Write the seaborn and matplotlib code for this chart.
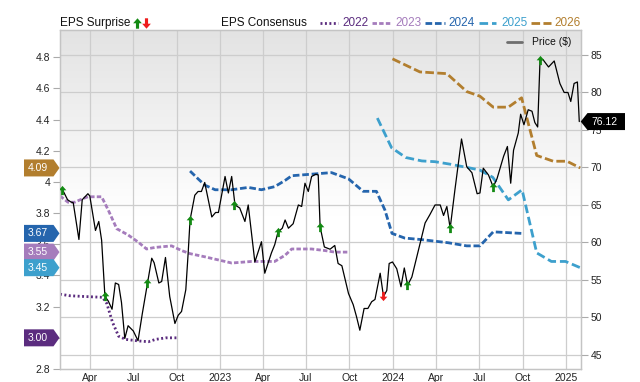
import numpy as np
import pandas as pd
import matplotlib
matplotlib.use("Agg")
import matplotlib.pyplot as plt
from matplotlib.path import Path
from matplotlib.patches import Polygon
from matplotlib.lines import Line2D
from matplotlib.colors import LinearSegmentedColormap
import seaborn as sns

# --- Price ($), right axis ---
price_dates = [
    "2022-01-31", "2022-02-12", "2022-02-19", "2022-02-24", "2022-03-08", "2022-03-15",
    "2022-03-27", "2022-03-31", "2022-04-12", "2022-04-19", "2022-04-25", "2022-05-02",
    "2022-05-09", "2022-05-17", "2022-05-24", "2022-05-31", "2022-06-06", "2022-06-13",
    "2022-06-20", "2022-07-01", "2022-07-11", "2022-07-20", "2022-07-31", "2022-08-09",
    "2022-08-14", "2022-08-24", "2022-08-30", "2022-09-07", "2022-09-16", "2022-09-27",
    "2022-10-04", "2022-10-11", "2022-10-20", "2022-10-25", "2022-10-29", "2022-11-08",
    "2022-11-15", "2022-11-22", "2022-11-29", "2022-12-14", "2022-12-22", "2022-12-28",
    "2023-01-11", "2023-01-18", "2023-01-25", "2023-02-01", "2023-02-11", "2023-02-22",
    "2023-03-01", "2023-03-15", "2023-03-29", "2023-04-05", "2023-04-19", "2023-04-26",
    "2023-05-03", "2023-05-12", "2023-05-18", "2023-05-25", "2023-06-04", "2023-06-15",
    "2023-06-22", "2023-06-29", "2023-07-06", "2023-07-13", "2023-07-22", "2023-07-27",
    "2023-07-31", "2023-08-09", "2023-08-21", "2023-08-31", "2023-09-07", "2023-09-15",
    "2023-09-29", "2023-10-09", "2023-10-16", "2023-10-23", "2023-11-01", "2023-11-09",
    "2023-11-17", "2023-11-24", "2023-12-05", "2023-12-12", "2023-12-19", "2023-12-24",
    "2023-12-31", "2024-01-09", "2024-01-18", "2024-01-25", "2024-02-01", "2024-02-10",
    "2024-02-24", "2024-03-09", "2024-03-19", "2024-03-30", "2024-04-10", "2024-04-17",
    "2024-04-24", "2024-05-01", "2024-05-11", "2024-05-25", "2024-06-05", "2024-06-16",
    "2024-06-27", "2024-07-03", "2024-07-10", "2024-07-21", "2024-07-31", "2024-08-08",
    "2024-08-22", "2024-08-30", "2024-09-06", "2024-09-12", "2024-09-22", "2024-09-27",
    "2024-10-04", "2024-10-13", "2024-10-21", "2024-10-27", "2024-11-02", "2024-11-07",
    "2024-11-13", "2024-11-25", "2024-12-07", "2024-12-19", "2024-12-28", "2025-01-05",
    "2025-01-11", "2025-01-18", "2025-01-25", "2025-01-29",
]
price_values = [
    67.2, 65.7, 65.4, 65.3, 60.4, 65.7,
    66.5, 66.2, 61.6, 62.8, 60.3, 52.8,
    52.2, 51.1, 54.6, 54.4, 52.0, 47.2,
    48.9, 48.2, 46.9, 50.5, 54.6, 57.9,
    57.3, 54.6, 54.8, 58.0, 52.8, 49.2,
    50.3, 50.8, 53.7, 58.6, 63.0, 66.3,
    66.8, 66.8, 68.0, 63.4, 64.0, 64.0,
    68.8, 66.6, 68.8, 65.0, 64.6, 62.8,
    65.0, 57.4, 60.1, 55.9, 58.6, 59.7,
    61.4, 61.9, 63.0, 61.9, 62.5, 65.0,
    64.8, 67.9, 66.8, 68.8, 69.1, 69.0,
    62.1, 59.4, 59.1, 59.6, 57.2, 56.9,
    53.2, 51.7, 50.1, 48.3, 51.2, 51.2,
    52.1, 52.4, 55.9, 52.8, 53.6, 57.2,
    57.4, 56.5, 54.1, 56.6, 54.3, 55.4,
    59.0, 62.6, 63.7, 65.0, 65.0, 63.6,
    64.8, 61.9, 67.0, 73.8, 70.1, 69.3,
    66.5, 66.6, 69.9, 69.0, 67.4, 68.5,
    71.5, 72.8, 67.9, 72.3, 74.6, 77.1,
    75.7, 77.7, 77.5, 76.0, 75.4, 84.3,
    84.4, 83.4, 84.2, 81.2, 80.0, 80.0,
    78.8, 81.2, 81.4, 76.12,
]

# --- EPS consensus by fiscal year, left axis ---
eps_2022_dates = ["2022-01-27", "2022-02-17", "2022-03-20", "2022-04-27", "2022-05-06",
                  "2022-05-18", "2022-05-31", "2022-06-15", "2022-07-12", "2022-08-02",
                  "2022-08-17", "2022-09-08", "2022-10-01"]
eps_2022_values = [3.28, 3.27, 3.265, 3.26, 3.22, 3.10, 3.01, 2.99, 2.98, 2.975, 2.99, 3.00, 3.00]

eps_2023_dates = ["2022-01-27", "2022-02-13", "2022-02-27", "2022-03-14", "2022-03-27",
                  "2022-04-25", "2022-05-09", "2022-05-27", "2022-06-20", "2022-07-11",
                  "2022-07-29", "2022-08-16", "2022-09-20", "2022-10-11", "2022-10-29",
                  "2022-11-29", "2023-01-25", "2023-03-08", "2023-04-26", "2023-05-18",
                  "2023-06-01", "2023-07-13", "2023-08-10", "2023-08-31", "2023-09-29"]
eps_2023_values = [3.91, 3.87, 3.87, 3.89, 3.905, 3.905, 3.82, 3.70, 3.66, 3.615,
                   3.57, 3.58, 3.59, 3.56, 3.54, 3.52, 3.48, 3.49, 3.49, 3.53,
                   3.57, 3.57, 3.56, 3.55, 3.55]

eps_2024_dates = ["2022-10-29", "2022-11-15", "2022-11-29", "2022-12-21", "2023-01-25",
                  "2023-03-01", "2023-03-29", "2023-04-26", "2023-05-18", "2023-06-01",
                  "2023-07-13", "2023-08-24", "2023-09-29", "2023-10-30", "2023-11-27",
                  "2023-12-15", "2023-12-30", "2024-01-26", "2024-03-02", "2024-04-27",
                  "2024-06-05", "2024-07-03", "2024-07-31", "2024-09-29"]
eps_2024_values = [4.07, 4.02, 3.98, 3.95, 3.95, 3.965, 3.95, 3.97, 4.01, 4.04,
                   4.05, 4.06, 4.02, 3.94, 3.94, 3.82, 3.67, 3.64, 3.63, 3.61,
                   3.59, 3.59, 3.68, 3.67]

eps_2025_dates = ["2023-11-29", "2023-12-29", "2024-01-28", "2024-03-02", "2024-03-30",
                  "2024-05-01", "2024-06-16", "2024-07-03", "2024-07-30", "2024-09-01",
                  "2024-09-30", "2024-10-31", "2024-12-01", "2024-12-31", "2025-01-31"]
eps_2025_values = [4.41, 4.22, 4.157, 4.135, 4.13, 4.114, 4.087, 4.076, 4.03, 3.885,
                   3.95, 3.545, 3.49, 3.49, 3.45]

eps_2026_dates = ["2023-12-31", "2024-02-27", "2024-04-24", "2024-06-05", "2024-07-03",
                  "2024-07-31", "2024-09-01", "2024-09-29", "2024-10-31", "2024-12-05",
                  "2025-01-03", "2025-01-31"]
eps_2026_values = [4.79, 4.706, 4.695, 4.58, 4.55, 4.48, 4.48, 4.54, 4.17, 4.133, 4.133, 4.09]

# --- EPS surprise markers (placed on the price line) ---
surprise_up_dates = ["2022-01-31", "2022-05-02", "2022-07-31", "2022-10-29", "2023-01-30",
                     "2023-05-03", "2023-07-31", "2024-01-31", "2024-05-01", "2024-07-31",
                     "2024-11-07"]
surprise_up_prices = [67.0, 52.8, 54.6, 63.0, 65.0, 61.4, 62.1, 54.3, 61.9, 67.4, 84.3]
surprise_down_dates = ["2023-12-12"]
surprise_down_prices = [52.8]

x_ticks = ["2022-04-01", "2022-07-01", "2022-10-01", "2023-01-01", "2023-04-01", "2023-07-01",
           "2023-10-01", "2024-01-01", "2024-04-01", "2024-07-01", "2024-10-01", "2025-01-01"]
x_tick_labels = ["Apr", "Jul", "Oct", "2023", "Apr", "Jul", "Oct", "2024", "Apr", "Jul", "Oct", "2025"]
left_ticks = [2.8, 3.0, 3.2, 3.4, 3.6, 3.8, 4.0, 4.2, 4.4, 4.6, 4.8]
# "3" sits fully under the 3.00 tag, so it is left blank
left_tick_labels = ["2.8", "", "3.2", "3.4", "3.6", "3.8", "4", "4.2", "4.4", "4.6", "4.8"]
right_ticks = [45, 50, 55, 60, 65, 70, 75, 80, 85]

# (label, dates, values, color, dash pattern)
eps_series = [
    ("2022", eps_2022_dates, eps_2022_values, "#5b2c7f", (0.7, 0.9)),
    ("2023", eps_2023_dates, eps_2023_values, "#a57cbc", (1.6, 0.8)),
    ("2024", eps_2024_dates, eps_2024_values, "#2565ad", (2.4, 1.0)),
    ("2025", eps_2025_dates, eps_2025_values, "#3da0cd", (3.1, 1.4)),
    ("2026", eps_2026_dates, eps_2026_values, "#b27e2e", (3.1, 1.2)),
]
GREEN, RED = "#138a13", "#ee1c1c"
GRID = "#cdcdcd"

sns.set_theme(style="white")
plt.rcParams["font.family"] = ["Liberation Sans", "DejaVu Sans"]

W, H = 640, 382
LEFT, RIGHT, TOP, BOTTOM = 60, 580.7, 30, 369
fx = lambda x: x / W
fy = lambda y: 1 - y / H

fig = plt.figure(figsize=(6.4, 3.82), dpi=100)
ax = fig.add_axes([fx(LEFT), fy(BOTTOM), (RIGHT - LEFT) / W, (BOTTOM - TOP) / H])
ax2 = ax.twinx()

eps_lim = (2.8, 4.975)
price_lim = (43.13, 88.33)
x_lim = (pd.Timestamp("2022-01-27"), pd.Timestamp("2025-02-01"))

for label, d, v, c, dash in eps_series:
    sns.lineplot(x=pd.to_datetime(d), y=v, ax=ax, color=c, linewidth=2,
                 linestyle=(0, dash), legend=False, zorder=2)

sns.lineplot(x=pd.to_datetime(price_dates), y=price_values, ax=ax2, color="black",
             linewidth=0.9, legend=False, zorder=3)

up_arrow = Path([(0, 0.5), (0.42, 0.02), (0.15, 0.02), (0.15, -0.5), (-0.15, -0.5),
                 (-0.15, 0.02), (-0.42, 0.02), (0, 0.5)], closed=True)
down_arrow = Path([(x, -y) for x, y in up_arrow.vertices], closed=True)

sns.scatterplot(x=pd.to_datetime(surprise_up_dates), y=surprise_up_prices, ax=ax2,
                marker=up_arrow, s=44, color=GREEN, linewidth=0, zorder=5, legend=False)
sns.scatterplot(x=pd.to_datetime(surprise_down_dates), y=surprise_down_prices, ax=ax2,
                marker=down_arrow, s=44, color=RED, linewidth=0, zorder=5, legend=False)

# background: light gray at the top fading to white
cmap = LinearSegmentedColormap.from_list("bg", ["#e3e3e3", "#ffffff"])
grad = np.clip(np.linspace(0, 1, 256) / 0.55, 0, 1).reshape(-1, 1)
ax.imshow(grad, extent=(0, 1, 0, 1), transform=ax.transAxes, origin="upper",
          aspect="auto", cmap=cmap, vmin=0, vmax=1, zorder=0)

ax.set_xlim(*x_lim)
ax.set_ylim(*eps_lim)
ax2.set_ylim(*price_lim)

# horizontal grid follows the price ticks, drawn under the EPS lines
for t in right_ticks:
    v = eps_lim[0] + (t - price_lim[0]) / (price_lim[1] - price_lim[0]) * (eps_lim[1] - eps_lim[0])
    ax.axhline(v, color=GRID, linewidth=0.9, zorder=0.6)
for d in x_ticks:
    ax.axvline(pd.Timestamp(d), color=GRID, linewidth=0.9, zorder=0.6)

ax.set_xticks(pd.to_datetime(x_ticks))
ax.set_xticklabels(x_tick_labels)
ax.set_yticks(left_ticks)
ax.set_yticklabels(left_tick_labels)
ax2.set_yticks(right_ticks)
ax2.set_yticklabels([str(t) for t in right_ticks])
ax.tick_params(axis="x", length=0, pad=3, labelsize=7.5, labelcolor="#222222")
ax.tick_params(axis="y", length=5, width=0.8, color="#aaaaaa", pad=2, labelsize=7.5,
               labelcolor="#222222", left=True)
ax2.tick_params(axis="y", length=5, width=0.8, color="#aaaaaa", pad=2, labelsize=7.5,
                labelcolor="#222222", right=True)
ax.set_xlabel("")
ax.set_ylabel("")
ax2.set_ylabel("")
ax2.grid(False)
for a in (ax, ax2):
    for s in a.spines.values():
        s.set_color("#c4c4c4")
        s.set_linewidth(0.9)

# --- value tags on the axes ---
ax_b, ax_h = fy(BOTTOM), (BOTTOM - TOP) / H
hh = 8.5 / H
for label, d, v, c, dash in eps_series:
    yc = ax_b + (v[-1] - eps_lim[0]) / (eps_lim[1] - eps_lim[0]) * ax_h
    fig.add_artist(Polygon([(fx(24), yc - hh), (fx(53.5), yc - hh), (fx(59.5), yc),
                            (fx(53.5), yc + hh), (fx(24), yc + hh)], closed=True,
                           transform=fig.transFigure, facecolor=c, edgecolor="none"))
    fig.text(fx(37.5), yc, f"{v[-1]:.2f}", color="white", fontsize=7.5, ha="center", va="center")

last_price = price_values[-1]
yc = ax_b + (last_price - price_lim[0]) / (price_lim[1] - price_lim[0]) * ax_h
fig.add_artist(Polygon([(fx(RIGHT), yc), (fx(587.5), yc + hh), (fx(625), yc + hh),
                        (fx(625), yc - hh), (fx(587.5), yc - hh)], closed=True,
                       transform=fig.transFigure, facecolor="black", edgecolor="none"))
fig.text(fx(604), yc, f"{last_price:.2f}", color="white", fontsize=7.5, ha="center", va="center")

# --- top legend ---
ly = fy(23)
fig.text(fx(60), ly, "EPS Surprise", fontsize=8.5, va="center", ha="left", color="#111111")
fig.add_artist(Line2D([fx(137)], [ly], marker=up_arrow, markersize=7.5, color=GREEN,
                      markeredgewidth=0, linestyle="none", transform=fig.transFigure))
fig.add_artist(Line2D([fx(146)], [ly], marker=down_arrow, markersize=7.5, color=RED,
                      markeredgewidth=0, linestyle="none", transform=fig.transFigure))
fig.text(fx(221), ly, "EPS Consensus", fontsize=8.5, va="center", ha="left", color="#111111")
legend_x = [(320, 338, 342), (372, 392, 395), (424.5, 445, 448), (478.5, 496, 501), (531, 551, 554)]
for (label, d, v, c, dash), (x0, x1, xt) in zip(eps_series, legend_x):
    fig.add_artist(Line2D([fx(x0), fx(x1)], [ly, ly], color=c, linewidth=2,
                          linestyle=(0, dash), transform=fig.transFigure))
    fig.text(fx(xt), ly, label, fontsize=8.5, va="center", ha="left", color=c)

py = fy(42)
fig.add_artist(Line2D([fx(507), fx(522)], [py, py], color="#6e6e6e", linewidth=2,
                      transform=fig.transFigure))
fig.text(fx(532), py, "Price ($)", fontsize=7.5, va="center", ha="left", color="#111111")

fig.savefig("out.png", dpi=100)
